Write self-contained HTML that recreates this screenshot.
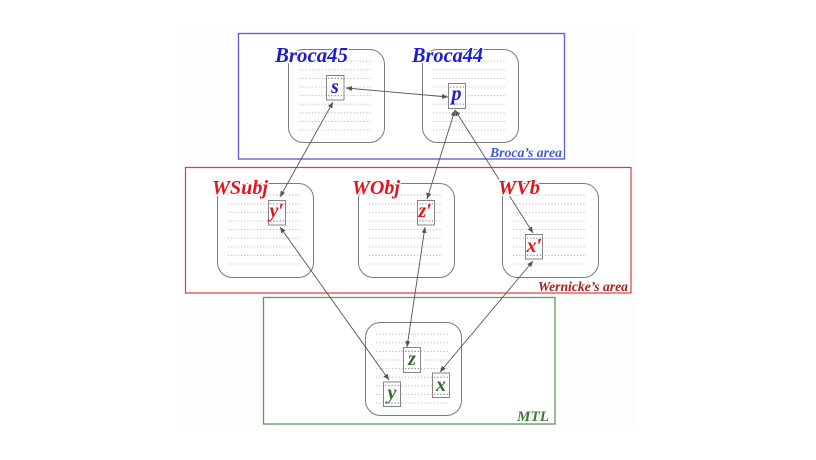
<!DOCTYPE html>
<html>
<head>
<meta charset="utf-8">
<style>
html,body{margin:0;padding:0;background:#fff;}
svg{display:block;}
.lbl{font-family:"Liberation Serif",serif;font-weight:bold;font-style:italic;}
</style>
</head>
<body>
<svg width="816" height="460" viewBox="0 0 816 460" xmlns="http://www.w3.org/2000/svg">
<defs>
<marker id="ah" viewBox="0 0 6 5" refX="6" refY="2.5" markerWidth="6" markerHeight="5" markerUnits="userSpaceOnUse" orient="auto-start-reverse">
<path d="M0,0 L6,2.5 L0,5 z" fill="#555"/>
</marker>
</defs>
<rect x="0" y="0" width="816" height="460" fill="#fff"/>
<rect x="178" y="30" width="457" height="398" fill="#fdfdfd"/>

<!-- outer area boxes -->
<rect x="238.5" y="33.5" width="326" height="125.5" fill="#fff" stroke="#6a60cc" stroke-width="1.4"/>
<rect x="185.5" y="167.5" width="445.5" height="125.5" fill="#fff" stroke="#de3a3a" stroke-width="1.2"/>
<rect x="263.5" y="297.5" width="291.5" height="126.5" fill="#fff" stroke="#5e9a5e" stroke-width="1.3"/>

<!-- inner rounded boxes -->
<g fill="none" stroke="#7a7a7a" stroke-width="1">
<rect x="288.5" y="49.5" width="96" height="93" rx="15"/>
<rect x="422.5" y="49.5" width="96" height="93" rx="15"/>
<rect x="217.5" y="183.5" width="96" height="94" rx="15"/>
<rect x="358.5" y="183.5" width="96" height="94" rx="15"/>
<rect x="502.5" y="183.5" width="96" height="94" rx="15"/>
<rect x="365.5" y="322.5" width="96" height="93" rx="15"/>
</g>

<!-- dot fields -->
<g fill="none" stroke="#c2c2c2" stroke-width="1.1" stroke-dasharray="1.2 2">
<path d="M299 61.2H371M299 69.8H371M299 78.4H371M299 87H371M299 95.6H371M299 104.2H371M299 112.8H371M299 121.4H371M299 130H371"/>
<path d="M433 61.2H505M433 69.8H505M433 78.4H505M433 87H505M433 95.6H505M433 104.2H505M433 112.8H505M433 121.4H505M433 130H505"/>
<path d="M228 195.2H300M228 203.8H300M228 212.4H300M228 221H300M228 229.6H300M228 238.2H300M228 246.8H300M228 255.4H300M228 264H300"/>
<path d="M369 195.2H441M369 203.8H441M369 212.4H441M369 221H441M369 229.6H441M369 238.2H441M369 246.8H441M369 255.4H441M369 264H441"/>
<path d="M513 195.2H585M513 203.8H585M513 212.4H585M513 221H585M513 229.6H585M513 238.2H585M513 246.8H585M513 255.4H585M513 264H585"/>
<path d="M376 334.2H448M376 342.8H448M376 351.4H448M376 360H448M376 368.6H448M376 377.2H448M376 385.8H448M376 394.4H448M376 403H448"/>
</g>

<!-- cells -->
<g>
<rect x="326.5" y="75.5" width="17.5" height="24.5" fill="#fff" stroke="#777" stroke-width="0.9"/>
<rect x="448.5" y="83.5" width="17" height="25" fill="#fff" stroke="#777" stroke-width="0.9"/>
<rect x="268.5" y="200.5" width="17" height="24.5" fill="#fff" stroke="#777" stroke-width="0.9"/>
<rect x="417.5" y="200.5" width="17" height="24.5" fill="#fff" stroke="#777" stroke-width="0.9"/>
<rect x="525.5" y="234.5" width="17" height="24.5" fill="#fff" stroke="#777" stroke-width="0.9"/>
<rect x="403.5" y="347.5" width="17" height="25" fill="#fff" stroke="#777" stroke-width="0.9"/>
<rect x="432.5" y="373" width="17" height="24.5" fill="#fff" stroke="#777" stroke-width="0.9"/>
<rect x="383.5" y="382" width="17" height="24.5" fill="#fff" stroke="#777" stroke-width="0.9"/>
</g>
<g fill="none" stroke="#8a8a8a" stroke-width="1.2" stroke-dasharray="1.3 1.9">
<path d="M328 78.4H343M328 95.6H343"/>
<path d="M450 87H465M450 104.2H465"/>
<path d="M270 203.8H285M270 221H285"/>
<path d="M419 203.8H434M419 221H434"/>
<path d="M527 238.2H542M527 255.4H542"/>
<path d="M405 351.4H420M405 368.6H420"/>
<path d="M434 377.2H449M434 394.4H449"/>
<path d="M385 385.8H400M385 403H400"/>
</g>

<!-- cell letters -->
<g font-family="Liberation Serif, serif" font-weight="bold" font-style="italic" font-size="20">
<text x="335" y="93" text-anchor="middle" fill="#1c1cd0">s</text>
<text x="456.5" y="100" text-anchor="middle" fill="#1c1cd0">p</text>
<text x="269.5" y="217" fill="#e2141c">y′</text>
<text x="418.5" y="217" fill="#e2141c">z′</text>
<text x="526.5" y="252" fill="#e2141c">x′</text>
<text x="412" y="365" text-anchor="middle" fill="#2e6e2e">z</text>
<text x="441" y="391" text-anchor="middle" fill="#2e6e2e">x</text>
<text x="392" y="399" text-anchor="middle" fill="#2e6e2e">y</text>
</g>

<!-- connectors -->
<g stroke="#555" stroke-width="0.9" fill="none" marker-start="url(#ah)" marker-end="url(#ah)">
<line x1="346" y1="88" x2="448" y2="97"/>
<line x1="333" y1="102" x2="280" y2="197"/>
<line x1="455" y1="110" x2="427" y2="199"/>
<line x1="455" y1="110" x2="533" y2="233"/>
<line x1="280" y1="227" x2="389" y2="380"/>
<line x1="425" y1="227" x2="407" y2="347"/>
<line x1="533" y1="261" x2="440" y2="372"/>
</g>

<!-- labels -->
<g class="lbl" stroke="#fff" stroke-width="3" paint-order="stroke" stroke-linejoin="round">
<text x="275" y="62" font-size="21" fill="#1c1cd0" textLength="73" lengthAdjust="spacingAndGlyphs">Broca45</text>
<text x="412" y="62" font-size="21" fill="#1c1cd0" textLength="71" lengthAdjust="spacingAndGlyphs">Broca44</text>
<text x="212" y="194" font-size="20" fill="#e2141c" textLength="56" lengthAdjust="spacingAndGlyphs">WSubj</text>
<text x="352" y="194" font-size="20" fill="#e2141c" textLength="48" lengthAdjust="spacingAndGlyphs">WObj</text>
<text x="498" y="194" font-size="20" fill="#e2141c" textLength="42" lengthAdjust="spacingAndGlyphs">WVb</text>
</g>
<g class="lbl">
<text x="490" y="157" font-size="13.5" fill="#3a5fcd" textLength="72" lengthAdjust="spacingAndGlyphs">Broca’s area</text>
<text x="538" y="291" font-size="13.5" fill="#a81c1c" textLength="90" lengthAdjust="spacingAndGlyphs">Wernicke’s area</text>
<text x="517" y="421" font-size="15" fill="#3b7a3b" textLength="32" lengthAdjust="spacingAndGlyphs">MTL</text>
</g>
</svg>
</body>
</html>
